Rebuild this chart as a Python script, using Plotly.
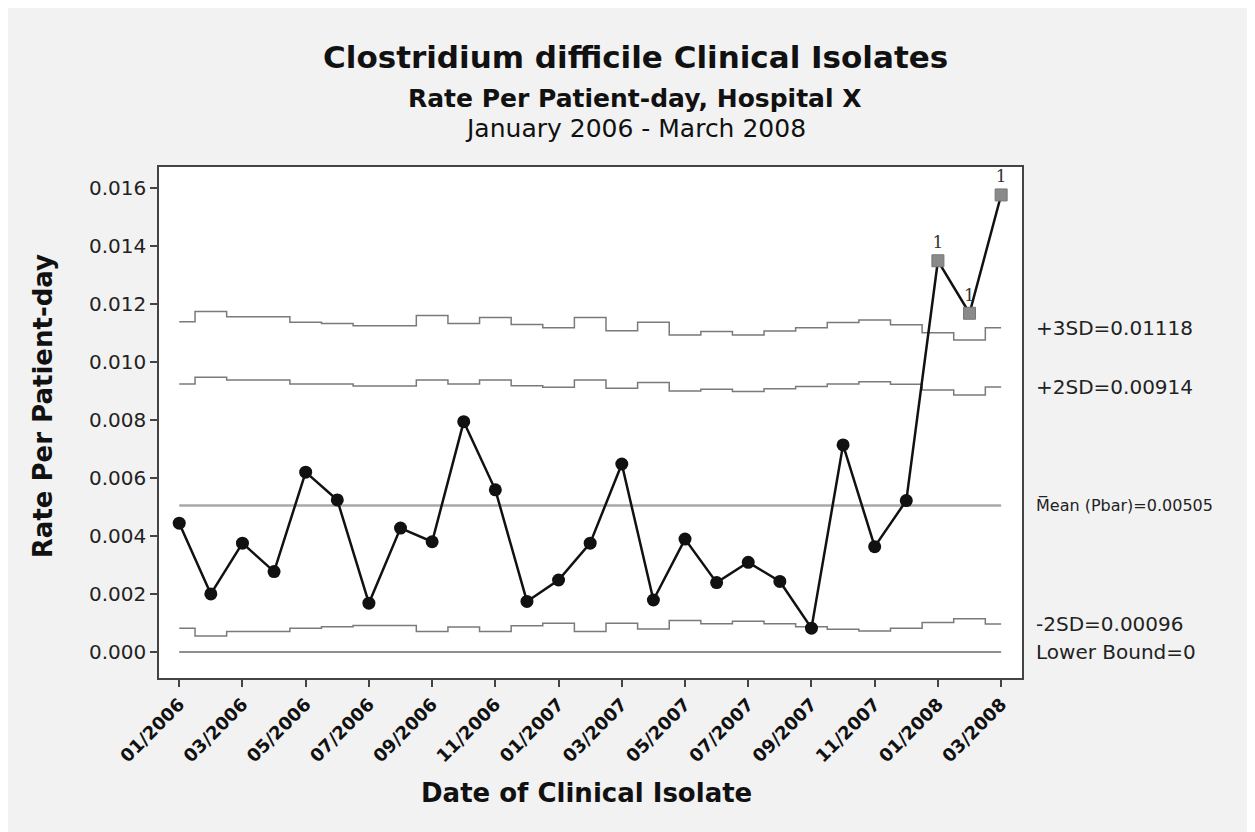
import plotly.graph_objects as go

# ---- data ----
months = ["01/2006", "02/2006", "03/2006", "04/2006", "05/2006", "06/2006",
          "07/2006", "08/2006", "09/2006", "10/2006", "11/2006", "12/2006",
          "01/2007", "02/2007", "03/2007", "04/2007", "05/2007", "06/2007",
          "07/2007", "08/2007", "09/2007", "10/2007", "11/2007", "12/2007",
          "01/2008", "02/2008", "03/2008"]

rate = [0.00444, 0.00200, 0.00375, 0.00277, 0.00620, 0.00524, 0.00168,
        0.00427, 0.00380, 0.00794, 0.00559, 0.00174, 0.00248, 0.00375,
        0.00648, 0.00179, 0.00389, 0.00239, 0.00309, 0.00243, 0.00082,
        0.00714, 0.00363, 0.00522, 0.01349, 0.01168, 0.01576]

ucl3 = [0.01139, 0.01174, 0.01156, 0.01156, 0.01137, 0.01133, 0.01125,
        0.01125, 0.01160, 0.01133, 0.01153, 0.01129, 0.01118, 0.01153,
        0.01108, 0.01137, 0.01093, 0.01105, 0.01093, 0.01107, 0.01118,
        0.01136, 0.01145, 0.01128, 0.01101, 0.01076, 0.01118]

ucl2 = [0.00924, 0.00947, 0.00938, 0.00938, 0.00924, 0.00924, 0.00917,
        0.00917, 0.00938, 0.00924, 0.00938, 0.00918, 0.00913, 0.00938,
        0.00909, 0.00929, 0.00900, 0.00906, 0.00898, 0.00908, 0.00915,
        0.00924, 0.00932, 0.00923, 0.00903, 0.00886, 0.00914]

lcl2 = [0.00082, 0.00055, 0.00070, 0.00070, 0.00082, 0.00087, 0.00091,
        0.00091, 0.00070, 0.00086, 0.00070, 0.00090, 0.00099, 0.00070,
        0.00099, 0.00079, 0.00108, 0.00097, 0.00106, 0.00097, 0.00087,
        0.00078, 0.00072, 0.00082, 0.00101, 0.00114, 0.00096]

pbar = 0.00505
lower_bound = 0.0

flags = [""] * 24 + ["1", "1", "1"]   # out-of-control test flags

y_ticks = [0.000, 0.002, 0.004, 0.006, 0.008, 0.010, 0.012, 0.014, 0.016]

right_labels = [
    ("+3SD=0.01118", ucl3[-1], 20),
    ("+2SD=0.00914", ucl2[-1], 20),
    ("M\u0305ean (Pbar)=0.00505", pbar, 16),
    ("-2SD=0.00096", lcl2[-1], 20),
    ("Lower Bound=0", lower_bound, 20),
]

# ---- figure ----
x = list(range(len(months)))
FONT = "DejaVu Sans"
limit_color = "#7a7a7a"

fig = go.Figure()

for vals in (ucl3, ucl2, lcl2):
    fig.add_trace(go.Scatter(x=x, y=vals, mode="lines", line_shape="hvh",
                             line=dict(color=limit_color, width=1.5),
                             hoverinfo="skip", showlegend=False))

fig.add_trace(go.Scatter(x=x, y=[pbar] * len(x), mode="lines",
                         line=dict(color="#a8a8a8", width=2.5),
                         showlegend=False))
fig.add_trace(go.Scatter(x=x, y=[lower_bound] * len(x), mode="lines",
                         line=dict(color="#6a6a6a", width=1.5),
                         showlegend=False))

in_ctrl_x = [xi for xi, f in zip(x, flags) if not f]
in_ctrl_y = [r for r, f in zip(rate, flags) if not f]
out_x = [xi for xi, f in zip(x, flags) if f]
out_y = [r for r, f in zip(rate, flags) if f]
out_t = [f for f in flags if f]

fig.add_trace(go.Scatter(x=x, y=rate, mode="lines",
                         line=dict(color="#111111", width=2.5),
                         showlegend=False))
fig.add_trace(go.Scatter(x=in_ctrl_x, y=in_ctrl_y, mode="markers",
                         marker=dict(color="#111111", size=13, symbol="circle"),
                         showlegend=False))
fig.add_trace(go.Scatter(x=out_x, y=out_y, mode="markers+text", text=out_t,
                         textposition="top center",
                         textfont=dict(family="DejaVu Serif", size=17, color="#333333"),
                         marker=dict(color="#8a8a8a", size=12, symbol="square",
                                     line=dict(color="#777777", width=1)),
                         showlegend=False))

for txt, yv, fs in right_labels:
    fig.add_annotation(x=1, xref="paper", y=yv, yref="y", text=txt,
                       xanchor="left", yanchor="middle", xshift=12,
                       showarrow=False,
                       font=dict(family=FONT, size=fs, color="#222222"))

fig.add_annotation(x=0.5516, xref="paper", y=1.215, yref="paper",
                   text="<b>Clostridium difficile Clinical Isolates</b>",
                   showarrow=False, xanchor="center", yanchor="middle",
                   font=dict(family=FONT, size=31, color="#111111"))
fig.add_annotation(x=0.5516, xref="paper", y=1.135, yref="paper",
                   text="<b>Rate Per Patient-day, Hospital X</b>",
                   showarrow=False, xanchor="center", yanchor="middle",
                   font=dict(family=FONT, size=25, color="#111111"))
fig.add_annotation(x=0.5516, xref="paper", y=1.076, yref="paper",
                   text="January 2006 - March 2008",
                   showarrow=False, xanchor="center", yanchor="middle",
                   font=dict(family=FONT, size=25, color="#111111"))
fig.add_annotation(x=0.4949, xref="paper", y=-0.225, yref="paper",
                   text="<b>Date of Clinical Isolate</b>",
                   showarrow=False, xanchor="center", yanchor="middle",
                   font=dict(family=FONT, size=26, color="#111111"))
fig.add_annotation(x=-0.1344, xref="paper", y=0.532, yref="paper",
                   text="<b>Rate Per Patient-day</b>", textangle=-90,
                   showarrow=False, xanchor="center", yanchor="middle",
                   font=dict(family=FONT, size=26, color="#111111"))

fig.update_xaxes(range=[-0.64, 26.66], tickmode="array",
                 tickvals=x[::2], ticktext=months[::2], tickangle=-45,
                 ticks="outside", ticklen=7, tickwidth=1.5, tickcolor="#444444",
                 showline=True, linecolor="#444444", linewidth=1.5, mirror=True,
                 showgrid=False, zeroline=False,
                 tickfont=dict(family=FONT, size=18, color="#111111", weight="bold"))
fig.update_yaxes(range=[-0.0009, 0.016724], tickmode="array",
                 tickvals=y_ticks, ticktext=[f"{v:.3f}" for v in y_ticks],
                 ticks="outside", ticklen=7, tickwidth=1.5, tickcolor="#444444",
                 showline=True, linecolor="#444444", linewidth=1.5, mirror=True,
                 showgrid=False, zeroline=False,
                 tickfont=dict(family=FONT, size=20, color="#222222"))

fig.update_layout(width=1255, height=832,
                  margin=dict(l=151, r=241, t=159, b=162),
                  paper_bgcolor="#f2f2f2", plot_bgcolor="#ffffff",
                  showlegend=False)

fig.write_html("out.html")
